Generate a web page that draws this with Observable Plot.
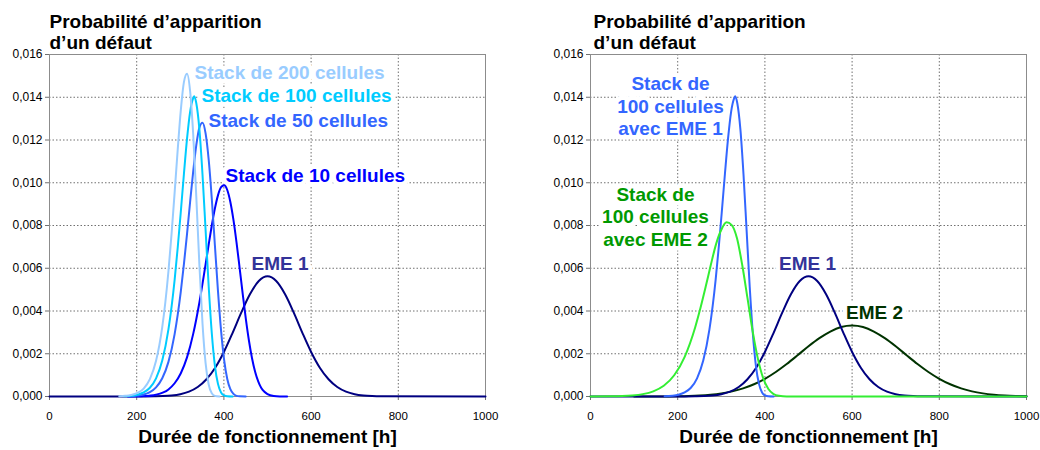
<!DOCTYPE html>
<html>
<head>
<meta charset="utf-8">
<script src="https://cdn.jsdelivr.net/npm/d3@7"></script>
<script src="https://cdn.jsdelivr.net/npm/@observablehq/plot@0.6"></script>
<style>
  html, body { margin: 0; padding: 0; background: #ffffff; }
  #wrap { display: flex; width: 1040px; height: 450px; }
  #wrap svg { display: block; flex: none; }
</style>
</head>
<body>
<div id="wrap"></div>
<script>
// ---------- texts ----------
const panelTitle = "Probabilité d’apparition\nd’un défaut";
const axisTitle = "Durée de fonctionnement [h]";
const xTicks = [0, 200, 400, 600, 800, 1000];
const yTicks = [0, 0.002, 0.004, 0.006, 0.008, 0.010, 0.012, 0.014, 0.016];
const leftNames = ["Stack de 200 cellules", "Stack de 100 cellules", "Stack de 50 cellules", "Stack de 10 cellules", "EME 1"];
const rightNames = ["Stack de\n100 cellules\navec EME 1", "Stack de\n100 cellules\navec EME 2", "EME 1", "EME 2"];

// ---------- data (hours, probability density in thousandths) ----------
const eme1Hours = [0, 220, 240, 260, 280, 300, 320, 340, 360, 380, 400, 420, 440, 460, 480, 500, 520, 540, 560, 580, 600, 620, 640, 660, 680, 700, 720, 740, 760, 1000];
const eme1Values = [0, 0.002, 0.007, 0.018, 0.046, 0.106, 0.226, 0.443, 0.805, 1.347, 2.085, 2.979, 3.934, 4.794, 5.401, 5.62, 5.401, 4.794, 3.934, 2.979, 2.085, 1.347, 0.805, 0.443, 0.226, 0.106, 0.046, 0.018, 0.007, 0];

const stack10Hours = [180, 216, 244.4, 272.8, 287, 301.2, 315.4, 329.6, 343.8, 358, 365.1, 372.2, 379.3, 386.4, 393.5, 400.6, 407.7, 414.8, 421.9, 429, 436.1, 443.2, 450.3, 457.4, 464.5, 471.6, 478.7, 485.8, 492.9, 500, 514.2, 528.4, 545];
const stack10Values = [0, 0.019, 0.086, 0.33, 0.62, 1.09, 1.83, 2.93, 4.40, 6.18, 7.11, 8.00, 8.79, 9.41, 9.79, 9.88, 9.66, 9.10, 8.26, 7.20, 6.01, 4.79, 3.63, 2.62, 1.79, 1.16, 0.71, 0.40, 0.22, 0.11, 0.023, 0.003, 0];

const stack50Hours = [180, 201.8, 216, 230.2, 244.4, 258.6, 272.8, 287, 294.1, 301.2, 308.3, 315.4, 322.5, 329.6, 336.7, 343.8, 350.9, 358, 365.1, 372.2, 379.3, 386.4, 393.5, 400.6, 407.7, 414.8, 421.9, 429, 436.1, 450];
const stack50Values = [0.01, 0.042, 0.094, 0.205, 0.428, 0.853, 1.62, 2.92, 3.83, 4.92, 6.19, 7.60, 9.10, 10.53, 11.76, 12.58, 12.81, 12.31, 11.08, 9.26, 7.09, 4.94, 3.08, 1.70, 0.82, 0.34, 0.12, 0.03, 0.007, 0];

const stack100Hours = [170, 187.6, 201.8, 216, 230.2, 244.4, 258.6, 272.8, 287, 294.1, 301.2, 308.3, 315.4, 322.5, 329.6, 332, 336.7, 343.8, 350.9, 358, 365.1, 372.2, 379.3, 386.4, 393.5, 400.6, 407.7, 420];
const stack100Values = [0.01, 0.034, 0.083, 0.19, 0.41, 0.85, 1.68, 3.14, 5.46, 6.97, 8.65, 10.41, 12.05, 13.32, 13.96, 14.05, 13.72, 12.50, 10.40, 7.79, 5.16, 2.97, 1.45, 0.59, 0.19, 0.05, 0.01, 0];

const stack200Hours = [160, 173.4, 187.6, 201.8, 216, 230.2, 244.4, 258.6, 265.7, 272.8, 279.9, 287, 294.1, 301.2, 308.3, 315.4, 322.5, 329.6, 336.7, 343.8, 350.9, 358, 365.1, 372.2, 379.3, 390];
const stack200Values = [0.01, 0.03, 0.07, 0.17, 0.37, 0.81, 1.67, 3.25, 4.41, 5.86, 7.59, 9.54, 11.56, 13.40, 14.71, 15.10, 14.29, 12.26, 9.34, 6.16, 3.43, 1.56, 0.56, 0.15, 0.03, 0];

const stackEme2Hours = [0, 48, 72, 96, 120, 144, 168, 192, 216, 240, 252, 264, 276, 288, 300, 312, 324, 336, 348, 360, 372, 384, 396, 408, 420, 432, 450, 1000];
const stackEme2Values = [0, 0.008, 0.020, 0.049, 0.112, 0.243, 0.503, 0.994, 1.858, 3.231, 4.124, 5.118, 6.16, 7.13, 7.80, 8.15, 8.02, 7.40, 6.15, 4.61, 3.05, 1.76, 0.86, 0.35, 0.11, 0.03, 0, 0];

const eme2Hours = [100, 150, 200, 225, 250, 275, 300, 325, 350, 375, 400, 425, 450, 475, 500, 525, 550, 575, 600, 625, 650, 675, 700, 725, 750, 775, 800, 825, 850, 875, 900, 925, 950, 975, 1000];
const eme2Values = [0.0006, 0.0029, 0.0128, 0.0251, 0.0472, 0.0849, 0.146, 0.240, 0.379, 0.572, 0.828, 1.147, 1.52, 1.93, 2.35, 2.73, 3.04, 3.25, 3.32, 3.25, 3.04, 2.73, 2.35, 1.93, 1.52, 1.147, 0.828, 0.572, 0.379, 0.240, 0.146, 0.0849, 0.0472, 0.0251, 0.0128];

// ---------- helpers ----------
const toRows = (hours, values) => hours.map((h, i) => ({h, p: values[i] / 1000}));
const fmtY = d => d.toFixed(3).replace(".", ",");
const FONT = '"Liberation Sans", Arial, Helvetica, sans-serif';

function curve(hours, values, color) {
  return Plot.line(toRows(hours, values), {x: "h", y: "p", stroke: color, strokeWidth: 2, curve: "monotone-x"});
}

function label(text, h, p, color, anchor) {
  return Plot.text([{h, p, text}], {
    x: "h", y: "p", text: "text", fill: color, textAnchor: anchor, lineAnchor: "middle",
    fontSize: 19, fontWeight: "bold", lineHeight: 1.18,
    stroke: "white", strokeWidth: 9, strokeLinejoin: "round", paintOrder: "stroke"
  });
}

function panel({marginLeft, marginRight, titleDx, labels, curves}) {
  return Plot.plot({
    width: 520, height: 450,
    marginLeft, marginRight, marginTop: 54, marginBottom: 54,
    style: {fontFamily: FONT, background: "white", color: "black", overflow: "visible"},
    x: {domain: [0, 1000]},
    y: {domain: [0, 0.016]},
    marks: [
      Plot.gridX(xTicks, {stroke: "#707070", strokeOpacity: 1, strokeDasharray: "1.5,2"}),
      Plot.gridY(yTicks, {stroke: "#707070", strokeOpacity: 1, strokeDasharray: "1.5,2"}),
      Plot.frame({stroke: "#8c8c8c"}),
      Plot.axisX(xTicks, {tickSize: 4, tickPadding: 11, fontSize: 11.5, tickFormat: d => String(d), stroke: "#707070", label: null}),
      Plot.axisY(yTicks, {tickSize: 4, tickPadding: 3, fontSize: 12, tickFormat: fmtY, stroke: "#707070", label: null}),
      ...labels,
      ...curves,
      Plot.text([panelTitle], {text: d => d, frameAnchor: "top-left", dx: titleDx, dy: -6, lineAnchor: "bottom", textAnchor: "start",
        fontSize: 19, fontWeight: "bold", lineHeight: 1.1, fill: "black"}),
      Plot.text([axisTitle], {text: d => d, frameAnchor: "bottom", dy: 46, lineAnchor: "bottom", textAnchor: "middle",
        fontSize: 19, fontWeight: "bold", fill: "black"})
    ]
  });
}

const left = panel({
  marginLeft: 49, marginRight: 35, titleDx: 0,
  labels: [
    label(leftNames[0], 332.6, 0.0152, "#99ccff", "start"),
    label(leftNames[1], 348.6, 0.01413, "#00ccff", "start"),
    label(leftNames[2], 364.7, 0.01296, "#3366ff", "start"),
    label(leftNames[3], 403.7, 0.01039, "#0000ff", "start"),
    label(leftNames[4], 528.7, 0.00627, "#333399", "middle")
  ],
  curves: [
    curve(eme1Hours, eme1Values, "#000080"),
    curve(stack10Hours, stack10Values, "#0000ff"),
    curve(stack50Hours, stack50Values, "#3366ff"),
    curve(stack100Hours, stack100Values, "#00ccff"),
    curve(stack200Hours, stack200Values, "#99ccff")
  ]
});

const right = panel({
  marginLeft: 70, marginRight: 14, titleDx: 3,
  labels: [
    label(rightNames[0], 183.5, 0.01361, "#3366ff", "middle"),
    label(rightNames[1], 149, 0.00844, "#009900", "middle"),
    label(rightNames[2], 497.7, 0.00627, "#333399", "middle"),
    label(rightNames[3], 651.4, 0.00398, "#003300", "middle")
  ],
  curves: [
    curve(eme2Hours, eme2Values, "#003300"),
    curve(eme1Hours, eme1Values, "#000080"),
    curve(stack100Hours, stack100Values, "#3366ff"),
    curve(stackEme2Hours, stackEme2Values, "#33ee33")
  ]
});

document.getElementById("wrap").append(left, right);
</script>
</body>
</html>
